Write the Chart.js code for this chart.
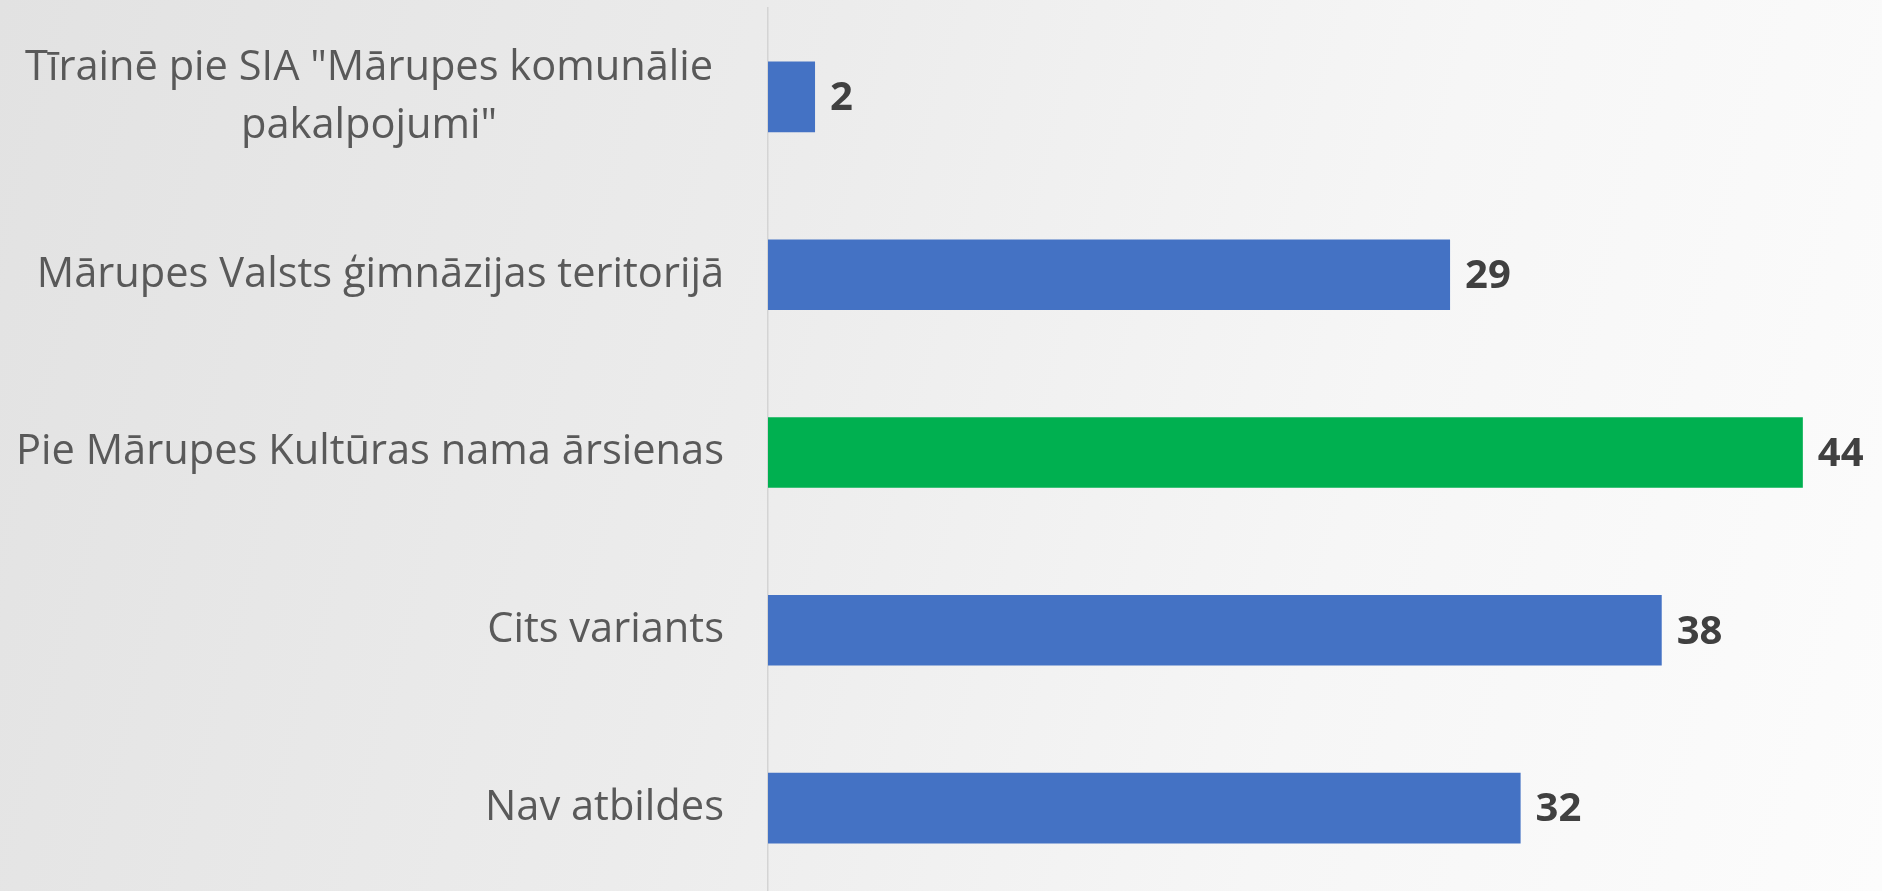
<!DOCTYPE html>
<html>
<head>
<meta charset="utf-8">
<script src="https://cdn.jsdelivr.net/npm/chart.js@4.4.1/dist/chart.umd.min.js"></script>
<style>
  html, body { margin: 0; padding: 0; overflow: hidden; }
  body {
    width: 1882px; height: 891px;
    background: linear-gradient(105deg, #e2e2e2 0%, #ececec 40%, #f6f6f6 70%, #fcfcfc 100%);
  }
  canvas { display: block; }
</style>
</head>
<body>
<canvas id="c" width="1882" height="897"></canvas>
<script>
const categories = [
  ['Tīrainē pie SIA "Mārupes komunālie', 'pakalpojumi"'],
  'Mārupes Valsts ģimnāzijas teritorijā',
  'Pie Mārupes Kultūras nama ārsienas',
  'Cits variants',
  'Nav atbildes'
];
const values = [2, 29, 44, 38, 32];
const barColors = ['#4472C4', '#4472C4', '#00B050', '#4472C4', '#4472C4'];
const axisMax = 47;

const FONT = '"Open Sans", "Noto Sans", sans-serif';

const labelsPlugin = {
  id: 'customLabels',
  afterDraw(chart) {
    const ctx = chart.ctx;
    const yScale = chart.scales.y;
    ctx.save();
    ctx.font = '41.6px ' + FONT;
    ctx.fillStyle = '#595959';
    ctx.textBaseline = 'middle';
    const rightX = chart.chartArea.left - 44;
    const lineH = 58;
    categories.forEach((lab, i) => {
      const y = yScale.getPixelForTick(i);
      if (Array.isArray(lab)) {
        const w = Math.max(...lab.map(l => ctx.measureText(l).width));
        const sp = ctx.measureText(' ').width;
        const cx = rightX - sp - w / 2;
        ctx.textAlign = 'center';
        lab.forEach((l, k) => {
          ctx.fillText(l, cx, y + (k - (lab.length - 1) / 2) * lineH);
        });
      } else {
        ctx.textAlign = 'right';
        ctx.fillText(lab, rightX, y);
      }
    });
    ctx.font = 'bold 40px ' + FONT;
    ctx.fillStyle = '#404040';
    ctx.textAlign = 'left';
    const meta = chart.getDatasetMeta(0);
    meta.data.forEach((bar, i) => {
      ctx.fillText(String(values[i]), bar.x + 15, bar.y + 2);
    });
    ctx.restore();
  }
};

function build() {
  new Chart(document.getElementById('c'), {
    type: 'bar',
    data: {
      labels: categories,
      datasets: [{
        data: values,
        backgroundColor: barColors,
        borderWidth: 0,
        categoryPercentage: 1,
        barPercentage: 0.397
      }]
    },
    options: {
      indexAxis: 'y',
      responsive: false,
      animation: false,
      events: [],
      layout: { padding: { top: 8, right: 8.6, bottom: 0, left: 0 } },
      plugins: { legend: { display: false }, tooltip: { enabled: false } },
      scales: {
        x: {
          display: false,
          min: 0,
          max: axisMax
        },
        y: {
          grid: { display: false, drawTicks: false },
          border: { display: true, color: '#d4d4d4', width: 1.5 },
          ticks: { display: false },
          afterFit(scale) { scale.width = 768; }
        }
      }
    },
    plugins: [labelsPlugin]
  });
}

if (document.fonts && document.fonts.load) {
  Promise.all([
    document.fonts.load('41.6px "Open Sans"'),
    document.fonts.load('bold 40px "Open Sans"')
  ]).then(build, build);
} else {
  build();
}
</script>
</body>
</html>
